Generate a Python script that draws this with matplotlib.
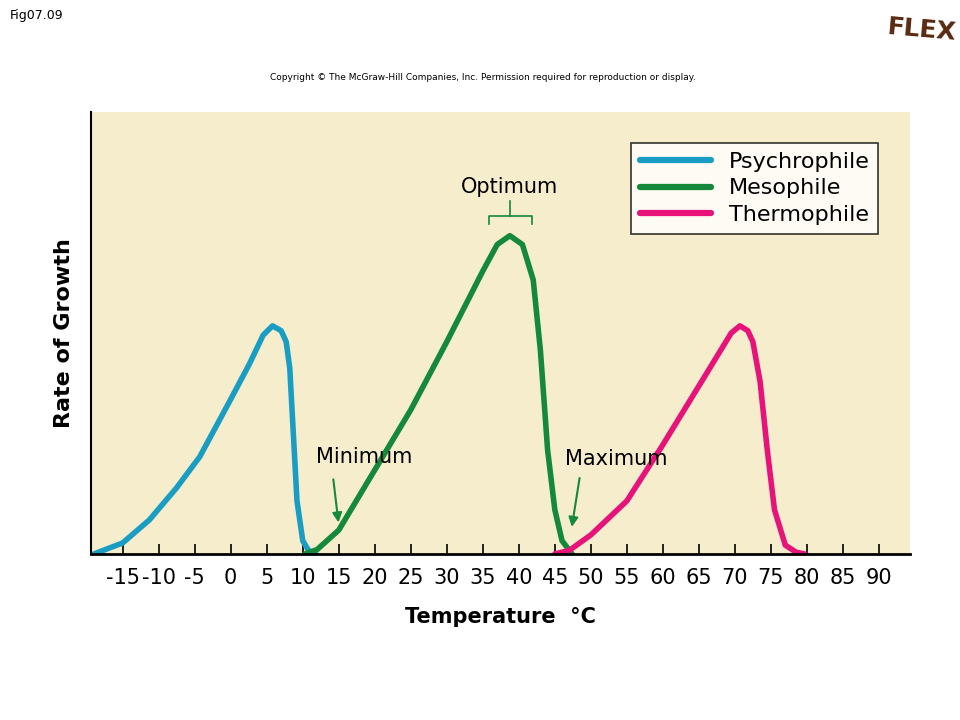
import matplotlib
matplotlib.use("Agg")
import matplotlib.pyplot as plt

psy_t = [-19, -15, -11.3, -7.5, -4.3, 0, 2.6, 4.5, 5.8, 7.0, 7.7, 8.2, 8.6, 9.2, 10.0, 10.8, 11.8]
psy_r = [0, 2.5, 7.7, 15, 22, 35, 43, 49.5, 51.6, 50.5, 48, 42, 30, 12, 3, 0.8, 0]
mes_t = [10.3, 12, 15, 20, 25, 30, 35, 37, 38.75, 40.5, 42, 43, 44, 45, 46, 47.4]
mes_r = [0, 1, 5.4, 19, 32.6, 48, 64, 70, 72, 70, 62, 46, 23.5, 10, 3, 0]
the_t = [45, 47, 50, 55, 60, 65, 68, 69.5, 70.7, 71.8, 72.5, 73.5, 74.5, 75.5, 77, 78.5, 79.7]
the_r = [0, 0.8, 4.3, 12, 24.7, 38, 46, 50, 51.6, 50.5, 48, 39, 23.5, 10, 2, 0.4, 0]
ticks = list(range(-15, 95, 5))

fig = plt.figure(figsize=(9.6, 7.2), dpi=100)
ax = fig.add_axes([0.0948, 0.2306, 0.853, 0.614])
ax.set_facecolor('#f6edcc')
ax.plot(psy_t, psy_r, color='#1a9dc3', lw=4, label='Psychrophile', solid_capstyle='round')
ax.plot(mes_t, mes_r, color='#14893b', lw=4, label='Mesophile', solid_capstyle='round')
ax.plot(the_t, the_r, color='#e8137a', lw=4, label='Thermophile', solid_capstyle='round')
ax.set_xlim(-19.4, 94.3)
ax.set_ylim(0, 100)
for s in ['top', 'right']:
    ax.spines[s].set_visible(False)
ax.spines['left'].set_linewidth(1.5)
ax.spines['bottom'].set_linewidth(2)
ax.set_xticks(ticks)
ax.set_xticklabels([str(t) for t in ticks], fontsize=15)
ax.tick_params(axis='x', direction='in', length=7, width=1.2, pad=10)
ax.set_yticks([])
ax.set_ylabel('Rate of Growth', fontsize=16, fontweight='bold', labelpad=12)
ax.set_xlabel('Temperature  °C', fontsize=15, fontweight='bold', labelpad=14)
leg = ax.legend(loc='upper right', bbox_to_anchor=(0.975, 0.955), fontsize=16, frameon=True,
                fancybox=False, edgecolor='black', facecolor='white', handlelength=3.2,
                borderpad=0.4, labelspacing=0.3)
leg.get_frame().set_linewidth(1.2)
for l in leg.get_lines():
    l.set_linewidth(4.5)

ax.text(38.75, 83, 'Optimum', fontsize=15, ha='center', va='center')
ax.plot([35.8, 35.8, 41.9, 41.9], [74.6, 76.5, 76.5, 74.6], color='#14893b', lw=1.2)
ax.plot([38.75, 38.75], [76.5, 79.8], color='#14893b', lw=1.2)
ax.text(18.5, 22, 'Minimum', fontsize=15, ha='center', va='center')
ax.annotate('', xy=(15, 6.5), xytext=(14.2, 17.5),
            arrowprops=dict(arrowstyle='-|>', color='#14893b', lw=1.5, mutation_scale=14))
ax.text(53.5, 21.5, 'Maximum', fontsize=15, ha='center', va='center')
ax.annotate('', xy=(47.3, 5.5), xytext=(48.5, 17.8),
            arrowprops=dict(arrowstyle='-|>', color='#14893b', lw=1.5, mutation_scale=14))

fig.text(10/960, 1-15/720, 'Fig07.09', fontsize=9, va='center')
fig.text(483/960, 1-77/720, 'Copyright © The McGraw-Hill Companies, Inc. Permission required for reproduction or display.',
         fontsize=6.5, ha='center', va='center')
fig.text(922/960, 1-30/720, 'FLEX', fontsize=18, fontweight='bold', color='#5a2a10', ha='center',
         va='center', family='DejaVu Sans Condensed' if False else 'DejaVu Sans', rotation=-5)
fig.savefig('out.png', dpi=100)
